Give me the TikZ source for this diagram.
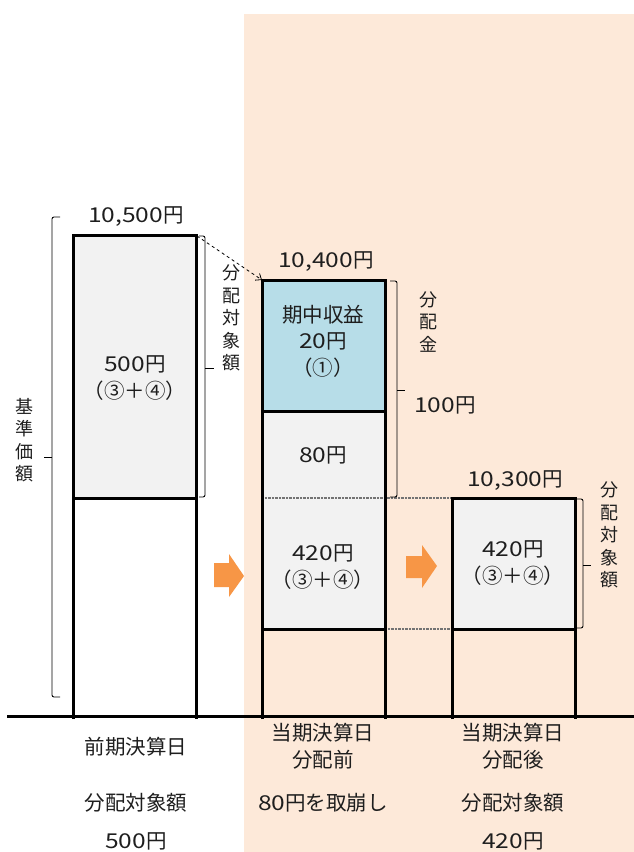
\documentclass[tikz,border=0pt]{standalone}
\usepackage{fontspec}
\setmainfont{Noto Sans CJK JP}
\newfontfamily\numf[FakeStretch=1.2]{Noto Sans CJK JP}
\newcommand\nm[1]{{\numf #1}}
\usetikzlibrary{arrows.meta}
\definecolor{peach}{RGB}{253,233,217}
\definecolor{boxgray}{RGB}{242,242,242}
\definecolor{boxblue}{RGB}{183,221,232}
\definecolor{orangearrow}{RGB}{247,150,70}
\definecolor{txt}{RGB}{30,30,30}
\tikzset{
  colline/.style={line width=3pt, black},
  sepline/.style={line width=2pt, black!55, dash pattern=on 0.8pt off 0.6pt},
  bracket/.style={line width=0.9pt, black, rounded corners=2pt},
  lbl/.style={font=\fontsize{20.5}{26.5}\selectfont, text=txt, align=center, inner sep=0pt},
  vlbl/.style={font=\fontsize{18}{22.5}\selectfont, text=txt, align=center, inner sep=0pt},
  blockarrow/.style={fill=orangearrow, draw=none}
}
\begin{document}
\begin{tikzpicture}[x=1pt,y=-1pt]
\useasboundingbox (0,0) rectangle (634,852);
\fill[peach] (244,14) rectangle (634,852);

% fills
\fill[boxgray] (73,235) rectangle (196,498);
\fill[boxblue] (262,280) rectangle (385,411);
\fill[boxgray] (262,411) rectangle (385,629);
\fill[boxgray] (452,498) rectangle (575,629);

% coordinates
\coordinate (Ltr) at (197,236);
\coordinate (Mtl) at (262,280);

% separators
\draw[sepline] (262,498) -- (452,498);
\draw[sepline] (385,629) -- (452,629);

% columns
\draw[colline] (73,719) -- (73,235) -- (196,235) -- (196,719);
\draw[colline] (73,498) -- (196,498);
\draw[colline] (262,719) -- (262,280) -- (385,280) -- (385,719);
\draw[colline] (262,411) -- (385,411);
\draw[colline] (262,629) -- (385,629);
\draw[colline] (452,719) -- (452,498) -- (575,498) -- (575,719);
\draw[colline] (452,629) -- (575,629);

% baseline
\draw[line width=3pt] (7,716) -- (634,716);

% dashed arrow
\draw[dashed, line width=0.8pt, -{Straight Barb[length=5pt,width=8pt]}] (Ltr) -- (Mtl);

% brackets
\draw[bracket] (60,217) -- (52,217) -- (52,697) -- (60,697);
\draw[line width=0.9pt] (52,457) -- (44,457);
\draw[bracket] (199,236) -- (205,236) -- (205,497) -- (199,497);
\draw[line width=0.9pt] (205,368) -- (214,368);
\draw[bracket] (390,281) -- (397,281) -- (397,497) -- (390,497);
\draw[line width=0.9pt] (397,390) -- (405,390);
\draw[bracket] (577,499) -- (583,499) -- (583,628) -- (577,628);
\draw[line width=0.9pt] (583,565) -- (591,565);

% orange block arrows
\fill[blockarrow] (214,563) -- (229,563) -- (229,554) -- (244,576) -- (229,597) -- (229,587) -- (214,587) -- cycle;
\fill[blockarrow] (406,556) -- (422,556) -- (422,545) -- (437,566) -- (422,588) -- (422,578) -- (406,578) -- cycle;

% top values
\node[lbl] (v10500) at (136,217) {\nm{10,500}円};
\node[lbl] (v10400) at (326,262) {\nm{10,400}円};
\node[lbl] (v10300) at (515,481) {\nm{10,300}円};

% box texts
\node[lbl] (t500) at (135,378) {\nm{500}円\\（③＋④）};
\node[lbl] (t20) at (323,341) {期中収益\\\nm{20}円\\（①）};
\node[lbl] (t80) at (323,455) {\nm{80}円};
\node[lbl] (t420a) at (323,567) {\nm{420}円\\（③＋④）};
\node[lbl] (t420b) at (513,563) {\nm{420}円\\（③＋④）};

% vertical labels
\node[vlbl] (kijun) at (25,440) {基\\準\\価\\額};
\node[vlbl] (haiL) at (231,318) {分\\配\\対\\象\\額};
\node[vlbl] (haikin) at (428,322) {分\\配\\金};
\node[lbl] (v100) at (445,405) {\nm{100}円};
\node[vlbl] (haiR) at (609,535) {分\\配\\対\\象\\額};

% bottom labels
\node[lbl] (d1) at (136,747) {前期決算日};
\node[lbl] (d2) at (323,746) {当期決算日\\分配前};
\node[lbl] (d3) at (513,746) {当期決算日\\分配後};
\node[lbl] (a1) at (136,803) {分配対象額};
\node[lbl] (a2) at (323,803) {\nm{80}円を取崩し};
\node[lbl] (a3) at (513,803) {分配対象額};
\node[lbl] (m1) at (136,841) {\nm{500}円};
\node[lbl] (m3) at (513,841) {\nm{420}円};
\end{tikzpicture}
\end{document}
